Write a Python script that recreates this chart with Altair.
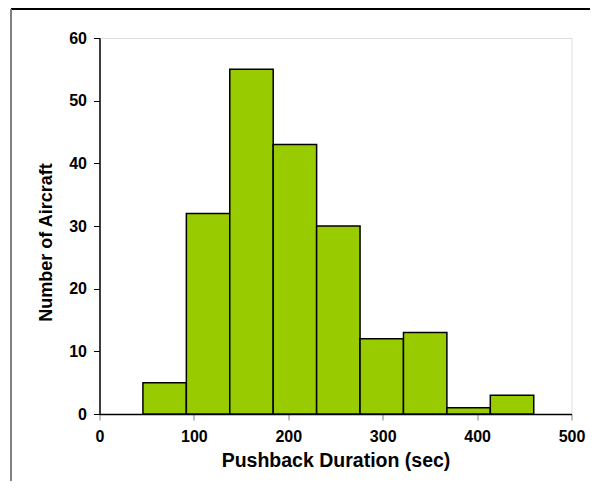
import altair as alt
import pandas as pd

bin_start = [46, 92, 138, 184, 230, 276, 322, 368, 414]
bin_end = [92, 138, 184, 230, 276, 322, 368, 414, 460]
counts = [5, 32, 55, 43, 30, 12, 13, 1, 3]

x_ticks = [0, 100, 200, 300, 400, 500]
y_ticks = [0, 10, 20, 30, 40, 50, 60]

df = pd.DataFrame({"start": bin_start, "end": bin_end, "count": counts})

FONT = "Liberation Sans"

bars = alt.Chart(df).mark_bar(
    color="#99CC00", stroke="#000000", strokeWidth=1.5
).encode(
    x=alt.X("start:Q", scale=alt.Scale(domain=[0, 500], nice=False),
            axis=alt.Axis(values=x_ticks, title="Pushback Duration (sec)",
                          grid=False, domainColor="#000000", domainWidth=1.5,
                          tickColor="#808080", tickSize=6, labelPadding=8,
                          labelFlush=False, labelOverlap=False,
                          labelFont=FONT, labelFontSize=16, labelFontWeight="bold",
                          labelColor="#000000",
                          titleFont=FONT, titleFontSize=19.5, titleFontWeight="bold",
                          titleColor="#000000", titlePadding=7)),
    x2="end:Q",
    y=alt.Y("count:Q", scale=alt.Scale(domain=[0, 60], nice=False),
            axis=alt.Axis(values=y_ticks, title="Number of Aircraft",
                          grid=False, domainColor="#000000", domainWidth=1.5,
                          tickColor="#000000", tickSize=6, labelPadding=7,
                          labelFlush=False, labelOverlap=False,
                          labelFont=FONT, labelFontSize=16, labelFontWeight="bold",
                          labelColor="#000000",
                          titleFont=FONT, titleFontSize=18, titleFontWeight="bold",
                          titleColor="#000000", titlePadding=13, titleY=204)),
    y2=alt.datum(0),
)

top_line = alt.Chart(df).mark_rule(color="#000000", strokeWidth=2).encode(
    x=alt.value(-88.5), x2=alt.value(498.5), y=alt.value(-29)
)
left_line = alt.Chart(df).mark_rule(color="#808080", strokeWidth=2).encode(
    x=alt.value(-88.5), y=alt.value(-29), y2=alt.value(451)
)

chart = alt.layer(bars, top_line, left_line).properties(
    width=472, height=376,
    autosize=alt.AutoSizeParams(type="none"),
    padding={"left": 91.5, "top": 30, "right": 18.5, "bottom": 67},
).configure_view(stroke="#999999", strokeWidth=1.5).configure(background="white")

chart.save("out.html", embed_options={"renderer": "svg", "actions": False})
